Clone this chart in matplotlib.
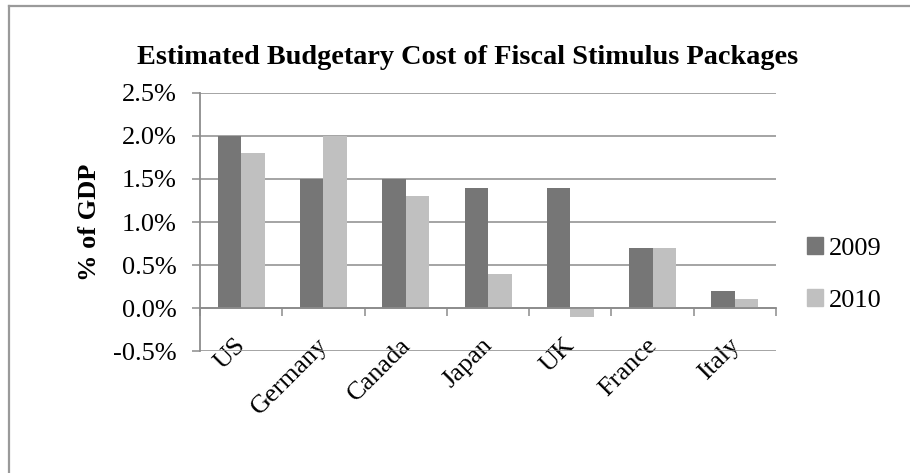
import numpy as np
import matplotlib.pyplot as plt
from matplotlib.lines import Line2D
from matplotlib.patches import Patch

countries = ['US', 'Germany', 'Canada', 'Japan', 'UK', 'France', 'Italy']
cost_2009 = [2.0, 1.5, 1.5, 1.4, 1.4, 0.7, 0.2]
cost_2010 = [1.8, 2.0, 1.3, 0.4, -0.1, 0.7, 0.1]
series_labels = ['2009', '2010']
y_ticks = [-0.5, 0.0, 0.5, 1.0, 1.5, 2.0, 2.5]

dark = '#767676'
light = '#c0c0c0'
grid_col = '#8c8c8c'

plt.rcParams['font.family'] = 'Liberation Serif'

fig = plt.figure(figsize=(9.1, 4.73), dpi=100)
ax = fig.add_axes([0.2198, 0.2579, 0.6330, 0.5455])

x = np.arange(len(countries))
w = 1 / 3.5
ax.bar(x - w / 2, cost_2009, w, color=dark, zorder=3, label=series_labels[0])
ax.bar(x + w / 2, cost_2010, w, color=light, zorder=3, label=series_labels[1])

ax.set_xlim(-0.5, len(countries) - 0.5)
ax.set_ylim(-0.5, 2.5)

# y axis
ax.set_yticks(y_ticks)
ax.set_yticklabels([f'{v:.1f}%' for v in y_ticks])
ax.yaxis.grid(True, color=grid_col, linewidth=1.1, zorder=0)
ax.tick_params(axis='y', length=6, width=1.1, color=grid_col, labelsize=19, pad=11)

# x axis: tick marks between categories, labels at centres
ax.spines['bottom'].set_position(('data', 0))
ax.set_xticks(np.arange(len(countries) + 1) - 0.5)
ax.set_xticklabels([])
ax.tick_params(axis='x', which='major', direction='out', length=6, width=1.1, color=grid_col)
ax.set_xticks(x - 0.08, minor=True)
ax.set_xticklabels(countries, minor=True, rotation=45, ha='right', va='top',
                   rotation_mode='anchor', fontsize=19)
ax.tick_params(axis='x', which='minor', length=0, pad=19)

for s in ['top', 'right']:
    ax.spines[s].set_visible(False)
for s in ['left', 'bottom']:
    ax.spines[s].set_color(grid_col)
    ax.spines[s].set_linewidth(1.3)
ax.spines['bottom'].set_zorder(4)

ax.set_ylabel('% of GDP', fontsize=19, fontweight='bold')
ax.yaxis.set_label_coords(-0.172, 0.5)

fig.text(0.514, 0.879, 'Estimated Budgetary Cost of Fiscal Stimulus Packages',
         ha='center', va='center', fontsize=20.3, fontweight='bold')

handles = [Patch(color=dark), Patch(color=light)]
fig.legend(handles, series_labels, loc='center left', bbox_to_anchor=(0.872, 0.42),
           frameon=False, fontsize=19, handlelength=0.6, handleheight=0.6,
           handletextpad=0.25, labelspacing=1.1, borderpad=0)

# outer chart border (top and left only visible)
fig.add_artist(Line2D([0.0099, 1.0], [0.987, 0.987], transform=fig.transFigure,
                      color='#9a9a9a', linewidth=1.6))
fig.add_artist(Line2D([0.0099, 0.0099], [0.0, 0.987], transform=fig.transFigure,
                      color='#9a9a9a', linewidth=1.6))

fig.savefig('out.png', dpi=100)
